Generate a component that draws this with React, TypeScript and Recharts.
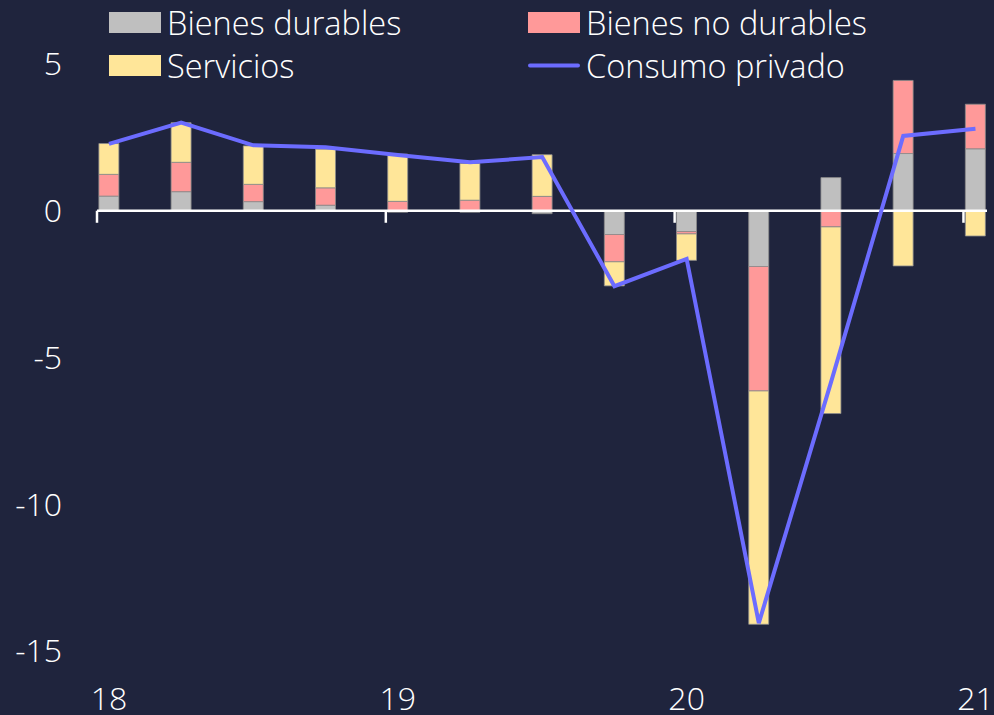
import React from 'react';
import {
  ComposedChart,
  Bar,
  Line,
  XAxis,
  YAxis,
  Legend,
  ReferenceLine,
} from 'recharts';

// quarters 2018T1 .. 2021T1, contributions in p.p.
const quarters = [
  '2018T1', '2018T2', '2018T3', '2018T4',
  '2019T1', '2019T2', '2019T3', '2019T4',
  '2020T1', '2020T2', '2020T3', '2020T4',
  '2021T1',
];
const durables = [0.5, 0.65, 0.31, 0.19, -0.05, -0.05, -0.1, -0.81, -0.71, -1.9, 1.13, 1.95, 2.11];
const noDurables = [0.74, 1.0, 0.59, 0.59, 0.32, 0.36, 0.49, -0.93, -0.08, -4.24, -0.55, 2.49, 1.52];
const services = [1.05, 1.35, 1.31, 1.32, 1.61, 1.25, 1.42, -0.82, -0.9, -7.95, -6.36, -1.88, -0.86];
const privateConsumption = [2.28, 3.0, 2.23, 2.16, 1.9, 1.65, 1.83, -2.57, -1.64, -14.05, -5.84, 2.55, 2.79];

const yearLabels = ['18', '19', '20', '21'];
const yearTickIdx = [0, 4, 8, 12];
const yTicks = [5, 0, -5, -10, -15];

const BG = '#1F243D';
const FONT = "'Open Sans', 'DejaVu Sans', sans-serif";
// year ticks sit a little before the first quarter of each year
const YEAR_OFFSET = 0.166;

const data = quarters.map((q, i) => ({
  x: i,
  q,
  durables: durables[i],
  noDurables: noDurables[i],
  services: services[i],
  consumption: privateConsumption[i],
}));

const legendOrder = ['durables', 'noDurables', 'services', 'consumption'];

function LegendGrid({ payload }: any) {
  const items = [...(payload || [])].sort(
    (a: any, b: any) => legendOrder.indexOf(a.dataKey) - legendOrder.indexOf(b.dataKey)
  );
  return (
    <div style={{ position: 'relative', height: 0 }}>
      {items.map((it: any, i: number) => {
        const left = i % 2 === 0 ? 109 : 528;
        const top = i < 2 ? 12 : 55;
        return (
          <div
            key={it.dataKey}
            style={{ position: 'absolute', left, top, height: 21, display: 'flex', alignItems: 'center', whiteSpace: 'nowrap' }}
          >
            {it.type === 'line' ? (
              <svg width={52} height={21}>
                <line x1={2} y1={10.5} x2={50} y2={10.5} stroke={it.color} strokeWidth={4} strokeLinecap="round" />
              </svg>
            ) : (
              <div style={{ width: 52, height: 21, background: it.color }} />
            )}
            <span style={{ marginLeft: 6, color: '#fff', fontFamily: FONT, fontWeight: 300, fontSize: 32.5, lineHeight: '21px' }}>
              {it.value}
            </span>
          </div>
        );
      })}
    </div>
  );
}

export default function App() {
  return (
    <div style={{ position: 'absolute', left: 0, top: 0, width: 994, height: 715, background: BG, overflow: 'hidden' }}>
      <ComposedChart
        width={994}
        height={715}
        data={data}
        stackOffset="sign"
        margin={{ top: 64, right: 7, bottom: 0, left: 0 }}
      >
        <XAxis
          dataKey="x"
          type="number"
          domain={[-YEAR_OFFSET, 12.16]}
          ticks={yearTickIdx}
          interval={0}
          tickFormatter={(v) => yearLabels[yearTickIdx.indexOf(v)]}
          axisLine={false}
          tickLine={false}
          tickSize={0}
          tickMargin={36}
          height={64}
          tick={{ fill: '#fff', fontSize: 32, fontFamily: FONT, fontWeight: 300 }}
        />
        <YAxis
          domain={[-15, 5]}
          ticks={yTicks}
          interval={0}
          axisLine={false}
          tickLine={false}
          tickSize={0}
          tickMargin={35}
          width={97}
          tick={{ fill: '#fff', fontSize: 32, fontFamily: FONT, fontWeight: 300 }}
        />
        <Legend
          content={<LegendGrid />}
          wrapperStyle={{ top: 0, left: 0, width: 994, height: 0 }}
        />
        <Bar dataKey="durables" name="Bienes durables" stackId="c" fill="#BFBFBF" stroke="#8C8C8C" strokeWidth={0.8} barSize={20} isAnimationActive={false} />
        <Bar dataKey="noDurables" name="Bienes no durables" stackId="c" fill="#FF9999" stroke="#8C8C8C" strokeWidth={0.8} barSize={20} isAnimationActive={false} />
        <Bar dataKey="services" name="Servicios" stackId="c" fill="#FFE699" stroke="#8C8C8C" strokeWidth={0.8} barSize={20} isAnimationActive={false} />
        <ReferenceLine y={0} stroke="#fff" strokeWidth={2.5} />
        {yearTickIdx.map((t) => (
          <ReferenceLine
            key={t}
            segment={[{ x: t - YEAR_OFFSET, y: 0 }, { x: t - YEAR_OFFSET, y: -0.41 }]}
            stroke="#fff"
            strokeWidth={2.5}
          />
        ))}
        <Line
          dataKey="consumption"
          name="Consumo privado"
          type="linear"
          stroke="#6C6CFF"
          strokeWidth={4}
          dot={false}
          legendType="line"
          isAnimationActive={false}
        />
      </ComposedChart>
    </div>
  );
}
